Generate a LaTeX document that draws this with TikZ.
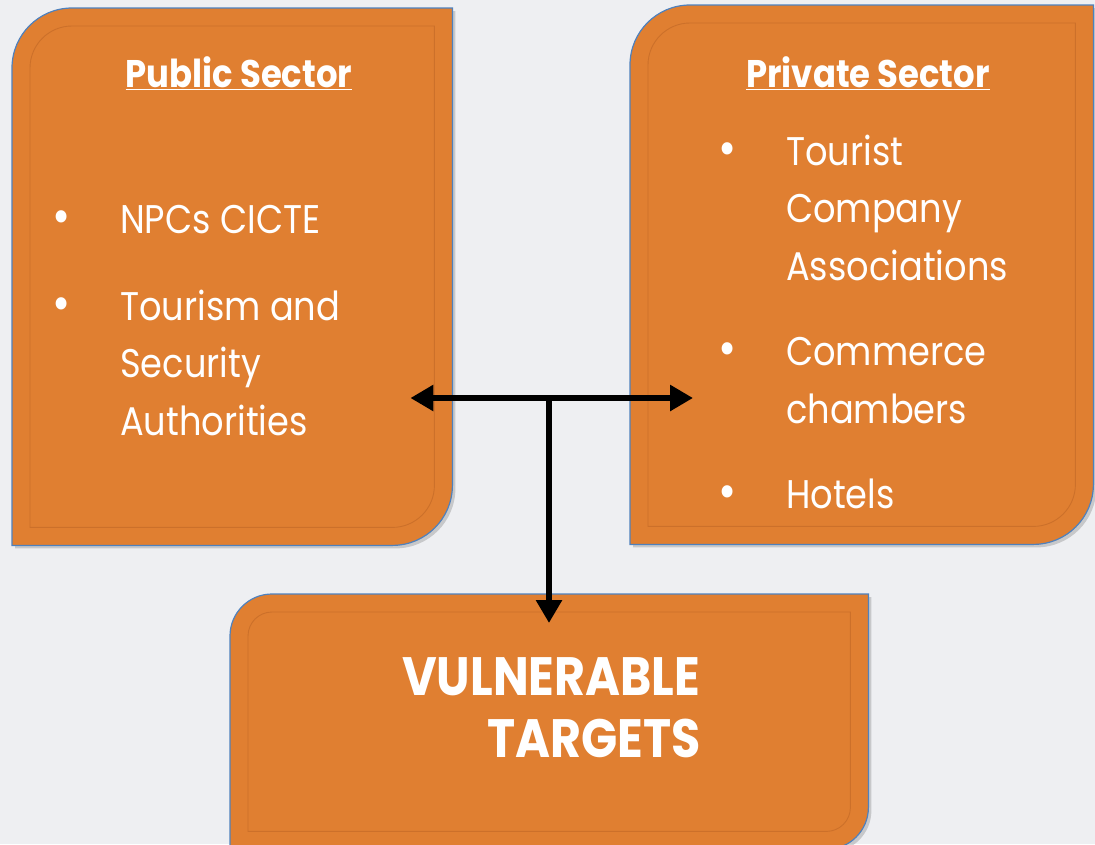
\documentclass[tikz,border=0pt]{standalone}
\usepackage{fontspec}
\setmainfont{Poppins}[FakeStretch=0.88]
\usetikzlibrary{arrows.meta,positioning,shadows}

\definecolor{boxorange}{RGB}{224,127,49}
\definecolor{boxedge}{RGB}{79,129,189}
\definecolor{bevel}{RGB}{204,112,42}
\definecolor{pagebg}{RGB}{238,239,242}

\newcommand\itemdot{\llap{{\fontsize{50}{50}\selectfont •}\hspace{50pt}}}

\begin{document}
\begin{tikzpicture}[x=1pt, y=1pt,
  every node/.style = {inner sep=0pt, text=white},
  sectorbox/.style = {fill=boxorange, draw=boxedge, line width=1.2pt,
    drop shadow={shadow xshift=3pt, shadow yshift=-3pt, opacity=0.35}},
  bevelline/.style = {draw=bevel, line width=0.9pt},
  heading/.style = {font=\fontsize{38.5}{44}\selectfont\bfseries, anchor=base},
  item/.style = {font=\fontsize{40}{57.5}\selectfont, align=left, anchor=base west},
  link/.style = {line width=6.5pt, -{Triangle[length=23pt, width=25pt]}}]
  % page
  \fill[pagebg] (0,0) rectangle (1095,-844);
  \useasboundingbox (0,0) rectangle (1095,-844);
  % the three boxes
  \node[minimum width=440pt, minimum height=537pt, anchor=north west] (pub) at (12,-8) {};
  \node[minimum width=463pt, minimum height=539pt, anchor=north west] (priv) at (630,-5) {};
  \node[minimum width=638pt, minimum height=255pt, anchor=north west] (vul) at (230,-594) {};
  \foreach \b/\r in {pub/60, priv/60, vul/42} {
    \path[sectorbox] (\b.south west) -- ([yshift=-\r pt]\b.north west)
      arc[start angle=180, end angle=90, radius=\r pt] -- (\b.north east)
      -- ([yshift=\r pt]\b.south east)
      arc[start angle=0, end angle=-90, radius=\r pt] -- cycle;
    \draw[bevelline] ([shift={(18pt,18pt)}]\b.south west)
      -- ([shift={(18pt,-\r pt)}]\b.north west)
      arc[start angle=180, end angle=90, radius=\r pt-18pt] -- ([shift={(-18pt,-18pt)}]\b.north east)
      -- ([shift={(-18pt,\r pt)}]\b.south east)
      arc[start angle=0, end angle=-90, radius=\r pt-18pt] -- cycle;
  }
  % texts (multi-line nodes sit on the baseline of their last line)
  \node[heading] (pubhead) at (239,-87) {\underline{Public Sector}};
  \node[heading] (privhead) at (868,-87) {\underline{Private Sector}};
  \node[item] (npcs) at (120,-233) {\itemdot NPCs CICTE};
  \node[item] (auth) at (120,-435) {\itemdot Tourism and\\Security\\Authorities};
  \node[item] (assoc) at (786,-280) {\itemdot Tourist\\Company\\Associations};
  \node[item] (chamb) at (786,-423) {\itemdot Commerce\\chambers};
  \node[item] (hotel) at (786,-508) {\itemdot Hotels};
  \node[font=\fontsize{54}{62}\selectfont\bfseries, align=left, anchor=base west]
    (target) at (402,-757) {VULNERABLE\\\hspace*{85pt}TARGETS};
  % connectors
  \coordinate (jn) at (549,-398);
  \coordinate (pubend) at ([xshift=-42pt]pub.east |- jn);
  \coordinate (privend) at ([xshift=63pt]priv.west |- jn);
  \coordinate (vulend) at ([yshift=-29pt]vul.north -| jn);
  \draw[link] (jn) -- (pubend);
  \draw[link] (jn) -- (privend);
  \draw[link] (jn) -- (vulend);
\end{tikzpicture}
\end{document}
